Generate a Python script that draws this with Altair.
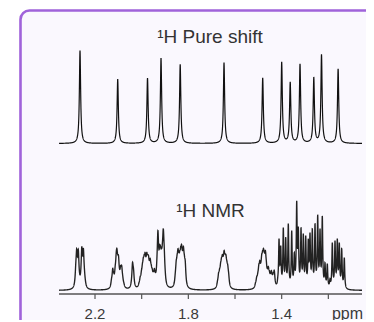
import altair as alt
import numpy as np
import pandas as pd

# ---------------- data ----------------
# 1H pure shift spectrum: singlet positions (ppm) and intensities (a.u.)
ps_ppm = [2.2643, 2.1027, 1.9750, 1.9171, 1.8349, 1.6471, 1.4813,
          1.3999, 1.3634, 1.3214, 1.2623, 1.2293, 1.1581]
ps_int = [92.8, 64.2, 65.5, 85.2, 79.2, 80.8, 65.8,
          81.5, 61.8, 79.8, 66.2, 89.2, 74.8]

# 1H NMR spectrum: individual multiplet lines (ppm) and peak intensities (a.u.)
nmr_ppm = [
    2.2823, 2.2784, 2.2750, 2.2716, 2.2677, 2.2626, 2.2600, 2.2566, 2.2531, 2.2497, 2.2454, 2.2420,
    2.1293, 2.1241, 2.1199, 2.1134, 2.1091, 2.1061, 2.1027, 2.0993, 2.0950, 2.0903, 2.0856, 2.0813, 2.0766,
    2.0436, 2.0393, 2.0350, 2.0316,
    2.0114, 2.0063, 2.0011, 1.9969, 1.9930, 1.9891, 1.9853, 1.9814, 1.9780, 1.9741, 1.9707, 1.9669,
    1.9634, 1.9591, 1.9549, 1.9501, 1.9454, 1.9407,
    1.9343, 1.9304, 1.9266, 1.9227, 1.9189, 1.9150, 1.9111, 1.9073, 1.9034, 1.8996,
    1.8559, 1.8520, 1.8481, 1.8443, 1.8404, 1.8366, 1.8327, 1.8289, 1.8250, 1.8211, 1.8173, 1.8134, 1.8100,
    1.6750, 1.6703, 1.6660, 1.6617, 1.6579, 1.6540, 1.6501, 1.6467, 1.6429, 1.6390, 1.6351, 1.6313,
    1.6274, 1.6236,
    1.5121, 1.5070, 1.5023, 1.4980, 1.4937, 1.4894, 1.4856, 1.4817, 1.4779, 1.4740, 1.4697, 1.4659,
    1.4616, 1.4573, 1.4530, 1.4487, 1.4444, 1.4401, 1.4359, 1.4316, 1.4277,
    1.4166, 1.4114, 1.4041, 1.3930, 1.3827, 1.3716, 1.3570, 1.3459, 1.3356, 1.3287, 1.3171, 1.3073,
    1.2970, 1.2859, 1.2786, 1.2687, 1.2571, 1.2456, 1.2357, 1.2259, 1.2143, 1.2044, 1.1929, 1.1830,
    1.1714, 1.1616, 1.1530, 1.1427, 1.1316,
]
nmr_int = [
    28, 42, 32, 41, 22, 15, 25, 44, 32, 42, 22, 12,
    12, 22, 18, 25, 38, 42, 36, 35, 22, 25, 25, 15, 8,
    12, 28, 22, 10,
    8, 14, 20, 27, 33, 36, 38, 34, 38, 36, 35, 30,
    32, 26, 22, 19, 22, 18,
    35, 60, 42, 46, 44, 42, 48, 62, 44, 22,
    18, 30, 36, 42, 38, 40, 44, 46, 40, 44, 36, 30, 15,
    10, 18, 22, 28, 33, 36, 35, 40, 37, 36, 30, 26,
    18, 8,
    8, 14, 18, 26, 30, 28, 36, 40, 42, 38, 40, 30,
    22, 24, 20, 17, 20, 16, 18, 20, 10,
    14, 52, 45, 63, 53, 67, 60, 38, 90, 64, 63, 57,
    55, 52, 58, 62, 67, 76, 62, 75, 28, 27, 12, 48,
    50, 52, 48, 42, 33,
]

spectrum_range = [2.3543, 1.0557]     # ppm window covered by the spectra / axis line
view_range = [2.5729, 1.0386]         # ppm window of the whole drawing area
tick_values = [2.2, 2.0, 1.8, 1.6, 1.4, 1.2]
tick_labels = ["2.2", "1.8", "1.4"]
title_top = "¹H Pure shift"
title_bottom = "¹H NMR"
axis_title = "ppm"

# ------------- line shapes from the peak lists -------------
grid = np.round(np.arange(spectrum_range[1], spectrum_range[0] + 1e-9, 0.0004), 5)


def fit_amplitudes(pos, targets, widths):
    pos = np.asarray(pos, float)
    t = np.asarray(targets, float)
    w = np.asarray(widths, float)
    L = w[None, :] ** 2 / ((pos[:, None] - pos[None, :]) ** 2 + w[None, :] ** 2)
    a = t.copy()
    for _ in range(800):
        a = np.clip(a + 0.4 * (t - L @ a), 0, None)
    return a


def spectrum(pos, targets, widths):
    amps = fit_amplitudes(pos, targets, widths)
    y = np.zeros_like(grid)
    for p, a, w in zip(pos, amps, widths):
        y += a * w ** 2 / ((grid - p) ** 2 + w ** 2)
    return y


ps_w = np.full(len(ps_ppm), 0.0032)
nmr_w = np.where(np.asarray(nmr_ppm) > 1.42, 0.0033, 0.0022)

top_df = pd.DataFrame({"ppm": grid, "intensity": spectrum(ps_ppm, ps_int, ps_w)})
bot_df = pd.DataFrame({"ppm": grid, "intensity": spectrum(nmr_ppm, nmr_int, nmr_w)})
tick_df = pd.DataFrame({"ppm": tick_values})
label_df = pd.DataFrame({"ppm": [float(s) for s in tick_labels], "label": tick_labels})
axis_df = pd.DataFrame({"start": [spectrum_range[0]], "end": [spectrum_range[1]]})

# ---------------- chart ----------------
FONT = "Liberation Sans"
purple = "#a063da"
panel = "#faf8fe"
W, H = 358, 312

xscale = alt.Scale(domain=view_range, nice=False, zero=False)
one = pd.DataFrame({"k": [0]})

outside = alt.Chart(one).mark_rect(
    fill="transparent", stroke="white", strokeWidth=30, cornerRadius=25.3
).encode(x=alt.value(-3.8), x2=alt.value(470), y=alt.value(-13.8), y2=alt.value(470))

border = alt.Chart(one).mark_rect(
    fill="transparent", stroke=purple, strokeWidth=2.6, cornerRadius=9
).encode(x=alt.value(12.5), x2=alt.value(450), y=alt.value(2.5), y2=alt.value(450))

top_line = alt.Chart(top_df).mark_line(color="#111111", strokeWidth=1.2).encode(
    x=alt.X("ppm:Q", scale=xscale, axis=None),
    y=alt.Y("intensity:Q", scale=alt.Scale(domain=[-176.5, 135.5], nice=False, zero=False), axis=None),
)

bottom_line = alt.Chart(bot_df).mark_line(color="#222222", strokeWidth=1.35).encode(
    x=alt.X("ppm:Q", scale=xscale, axis=None),
    y=alt.Y("intensity:Q", scale=alt.Scale(domain=[-29.5, 282.5], nice=False, zero=False), axis=None),
)

axis_line = alt.Chart(axis_df).mark_rule(color="#555555", strokeWidth=1.5).encode(
    x=alt.X("start:Q", scale=xscale, axis=None), x2="end:Q", y=alt.value(286)
)

ticks = alt.Chart(tick_df).mark_rule(color="#555555", strokeWidth=1.2).encode(
    x=alt.X("ppm:Q", scale=xscale, axis=None), y=alt.value(286), y2=alt.value(291)
)

labels = alt.Chart(label_df).mark_text(
    font=FONT, fontSize=15, color="#3a3a3a", align="center", baseline="alphabetic"
).encode(x=alt.X("ppm:Q", scale=xscale, axis=None), y=alt.value(310.5), text="label:N")

ppm_text = alt.Chart(one).mark_text(
    text=axis_title, font=FONT, fontSize=16, color="#3a3a3a", align="center", baseline="alphabetic"
).encode(x=alt.value(339.5), y=alt.value(310.5))

t1 = alt.Chart(one).mark_text(
    text=title_top, font=FONT, fontSize=19, color="#333333", align="center", baseline="alphabetic"
).encode(x=alt.value(202), y=alt.value(35))

t2 = alt.Chart(one).mark_text(
    text=title_bottom, font=FONT, fontSize=19, color="#333333", align="center", baseline="alphabetic"
).encode(x=alt.value(202.5), y=alt.value(208.7))

chart = alt.layer(
    outside, border, top_line, bottom_line, axis_line, ticks, labels, ppm_text, t1, t2
).resolve_scale(y="independent").properties(
    width=W, height=H,
    autosize=alt.AutoSizeParams(type="none"),
    padding=0,
    background=panel,
).configure_view(stroke=None)

chart.save("out.html", embed_options={"renderer": "svg", "actions": False})
